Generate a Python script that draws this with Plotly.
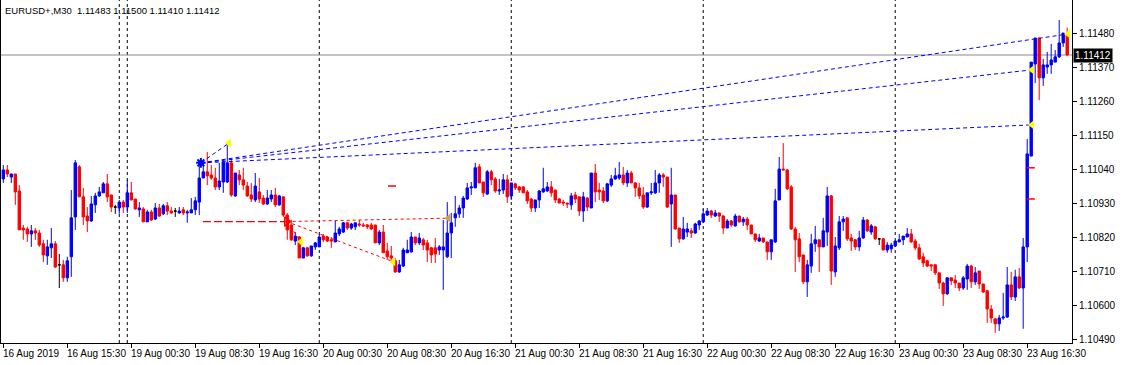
import numpy as np
import plotly.graph_objects as go

# ---------------- data (EURUSD+, M30) ----------------
opens = [
    1.11011, 1.11040, 1.11017, 1.11027, 1.10972, 1.10852, 1.10849, 1.10833, 1.10843, 1.10836,
    1.10801, 1.10762, 1.10788, 1.10801, 1.10733, 1.10733, 1.10691, 1.10759, 1.10888, 1.11050,
    1.10953, 1.10891, 1.10875, 1.10927, 1.10956, 1.10966, 1.10995, 1.10959, 1.10920, 1.10917,
    1.10936, 1.10920, 1.10966, 1.10946, 1.10911, 1.10914, 1.10872, 1.10904, 1.10881, 1.10917,
    1.10898, 1.10924, 1.10907, 1.10907, 1.10901, 1.10911, 1.10901, 1.10901, 1.10911, 1.10936,
    1.11014, 1.11034, 1.11024, 1.11014, 1.10985, 1.11001, 1.11001, 1.11063, 1.10956, 1.11024,
    1.11008, 1.10988, 1.10959, 1.10943, 1.10969, 1.10949, 1.10930, 1.10946, 1.10959, 1.10927,
    1.10953, 1.10894, 1.10862, 1.10810, 1.10823, 1.10755, 1.10788, 1.10762, 1.10791, 1.10791,
    1.10826, 1.10823, 1.10814, 1.10807, 1.10833, 1.10839, 1.10869, 1.10852, 1.10856, 1.10865,
    1.10862, 1.10862, 1.10862, 1.10862, 1.10804, 1.10839, 1.10778, 1.10762, 1.10746, 1.10710,
    1.10729, 1.10772, 1.10775, 1.10823, 1.10804, 1.10814, 1.10804, 1.10788, 1.10788, 1.10781,
    1.10781, 1.10759, 1.10836, 1.10885, 1.10898, 1.10917, 1.10946, 1.10982, 1.10982, 1.11050,
    1.11001, 1.10962, 1.11034, 1.11011, 1.10972, 1.10975, 1.11008, 1.10956, 1.10995, 1.10985,
    1.10985, 1.10969, 1.10946, 1.10917, 1.10943, 1.10969, 1.10972, 1.10985, 1.10975, 1.10946,
    1.10936, 1.10933, 1.10927, 1.10959, 1.10953, 1.10907, 1.10949, 1.10917, 1.11030, 1.10975,
    1.10972, 1.10940, 1.10991, 1.11011, 1.11014, 1.11024, 1.10998, 1.11030, 1.10998, 1.10982,
    1.10959, 1.10920, 1.10966, 1.10966, 1.10998, 1.11024, 1.11017, 1.10930, 1.10959, 1.10852,
    1.10817, 1.10839, 1.10843, 1.10836, 1.10862, 1.10872, 1.10894, 1.10907, 1.10891, 1.10901,
    1.10891, 1.10852, 1.10875, 1.10859, 1.10891, 1.10872, 1.10881, 1.10862, 1.10833, 1.10810,
    1.10820, 1.10807, 1.10775, 1.10807, 1.10943, 1.11043, 1.11040, 1.10985, 1.10849, 1.10817,
    1.10765, 1.10678, 1.10729, 1.10801, 1.10814, 1.10791, 1.10839, 1.10956, 1.10710, 1.10788,
    1.10872, 1.10885, 1.10820, 1.10814, 1.10791, 1.10820, 1.10878, 1.10839, 1.10856, 1.10817,
    1.10817, 1.10781, 1.10785, 1.10794, 1.10807, 1.10814, 1.10823, 1.10833, 1.10810, 1.10788,
    1.10759, 1.10746, 1.10733, 1.10733, 1.10707, 1.10674, 1.10639, 1.10691, 1.10684, 1.10674,
    1.10658, 1.10687, 1.10729, 1.10678, 1.10713, 1.10671, 1.10649, 1.10590, 1.10558, 1.10542,
    1.10561, 1.10564, 1.10668, 1.10629, 1.10694, 1.10658, 1.10791, 1.11085, 1.11383, 1.11467,
    1.11338, 1.11373, 1.11380, 1.11389, 1.11406, 1.11451, 1.11483,
]
highs = [
    1.11056, 1.11056, 1.11027, 1.11027, 1.10991, 1.10862, 1.10856, 1.10862, 1.10852, 1.10846,
    1.10814, 1.10814, 1.10852, 1.10810, 1.10768, 1.10749, 1.10759, 1.10975, 1.11072, 1.11056,
    1.10982, 1.10920, 1.10956, 1.10966, 1.10985, 1.11001, 1.11027, 1.10959, 1.10927, 1.10943,
    1.10943, 1.11008, 1.11001, 1.10946, 1.10936, 1.10920, 1.10911, 1.10911, 1.10933, 1.10930,
    1.10930, 1.10936, 1.10920, 1.10917, 1.10920, 1.10920, 1.10911, 1.10949, 1.10953, 1.11063,
    1.11063, 1.11098, 1.11056, 1.11047, 1.11063, 1.11072, 1.11131, 1.11076, 1.11030, 1.11040,
    1.11047, 1.11001, 1.10998, 1.11030, 1.11014, 1.10959, 1.10975, 1.10975, 1.10982, 1.10959,
    1.10953, 1.10901, 1.10878, 1.10839, 1.10826, 1.10791, 1.10791, 1.10794, 1.10807, 1.10833,
    1.10833, 1.10826, 1.10823, 1.10875, 1.10856, 1.10872, 1.10872, 1.10869, 1.10869, 1.10878,
    1.10869, 1.10865, 1.10869, 1.10862, 1.10846, 1.10862, 1.10804, 1.10794, 1.10755, 1.10749,
    1.10788, 1.10814, 1.10839, 1.10823, 1.10836, 1.10820, 1.10814, 1.10791, 1.10820, 1.10797,
    1.10878, 1.10936, 1.10901, 1.10956, 1.10927, 1.10956, 1.10998, 1.11001, 1.11063, 1.11059,
    1.11001, 1.11040, 1.11040, 1.11017, 1.11011, 1.11027, 1.11024, 1.10998, 1.10998, 1.10988,
    1.10988, 1.10975, 1.10949, 1.10943, 1.10975, 1.11047, 1.11001, 1.11004, 1.10975, 1.10949,
    1.10943, 1.10933, 1.10966, 1.10969, 1.10953, 1.10969, 1.10953, 1.11030, 1.11059, 1.10998,
    1.10985, 1.10998, 1.11024, 1.11047, 1.11066, 1.11050, 1.11040, 1.11037, 1.11001, 1.10998,
    1.10985, 1.10966, 1.10998, 1.11040, 1.11030, 1.11030, 1.11017, 1.11047, 1.10959, 1.10852,
    1.10888, 1.10869, 1.10852, 1.10869, 1.10878, 1.10914, 1.10917, 1.10911, 1.10911, 1.10901,
    1.10894, 1.10881, 1.10878, 1.10898, 1.10891, 1.10888, 1.10888, 1.10862, 1.10833, 1.10833,
    1.10820, 1.10807, 1.10814, 1.10979, 1.11082, 1.11127, 1.11043, 1.10991, 1.10856, 1.10836,
    1.10765, 1.10749, 1.10833, 1.10859, 1.10814, 1.10885, 1.10985, 1.10959, 1.10823, 1.10891,
    1.10891, 1.10885, 1.10833, 1.10817, 1.10843, 1.10888, 1.10881, 1.10865, 1.10859, 1.10820,
    1.10820, 1.10807, 1.10804, 1.10810, 1.10833, 1.10826, 1.10852, 1.10849, 1.10817, 1.10801,
    1.10772, 1.10749, 1.10733, 1.10736, 1.10707, 1.10678, 1.10691, 1.10691, 1.10700, 1.10674,
    1.10697, 1.10736, 1.10733, 1.10726, 1.10713, 1.10671, 1.10652, 1.10603, 1.10561, 1.10571,
    1.10642, 1.10726, 1.10710, 1.10717, 1.10723, 1.10820, 1.11140, 1.11389, 1.11467, 1.11467,
    1.11399, 1.11422, 1.11448, 1.11428, 1.11525, 1.11483, 1.11500,
]
lows = [
    1.10998, 1.11017, 1.10998, 1.10927, 1.10846, 1.10814, 1.10807, 1.10791, 1.10814, 1.10791,
    1.10742, 1.10733, 1.10755, 1.10723, 1.10658, 1.10678, 1.10678, 1.10694, 1.10846, 1.10953,
    1.10862, 1.10839, 1.10872, 1.10901, 1.10953, 1.10966, 1.10936, 1.10904, 1.10898, 1.10898,
    1.10901, 1.10901, 1.10943, 1.10911, 1.10888, 1.10872, 1.10872, 1.10875, 1.10878, 1.10888,
    1.10894, 1.10894, 1.10898, 1.10888, 1.10898, 1.10894, 1.10869, 1.10901, 1.10894, 1.10894,
    1.11014, 1.10991, 1.11008, 1.10975, 1.10975, 1.10966, 1.10998, 1.10953, 1.10953, 1.10991,
    1.10975, 1.10953, 1.10936, 1.10936, 1.10933, 1.10927, 1.10927, 1.10936, 1.10920, 1.10924,
    1.10888, 1.10814, 1.10810, 1.10797, 1.10755, 1.10755, 1.10759, 1.10759, 1.10781, 1.10791,
    1.10807, 1.10807, 1.10788, 1.10807, 1.10826, 1.10836, 1.10846, 1.10846, 1.10846, 1.10856,
    1.10856, 1.10849, 1.10846, 1.10804, 1.10797, 1.10772, 1.10749, 1.10739, 1.10707, 1.10707,
    1.10726, 1.10772, 1.10772, 1.10797, 1.10797, 1.10781, 1.10742, 1.10739, 1.10739, 1.10765,
    1.10652, 1.10755, 1.10755, 1.10856, 1.10885, 1.10885, 1.10943, 1.10959, 1.10982, 1.10998,
    1.10953, 1.10959, 1.10991, 1.10966, 1.10959, 1.10962, 1.10933, 1.10943, 1.10975, 1.10966,
    1.10966, 1.10930, 1.10904, 1.10904, 1.10917, 1.10966, 1.10969, 1.10953, 1.10933, 1.10933,
    1.10924, 1.10917, 1.10911, 1.10933, 1.10891, 1.10872, 1.10907, 1.10917, 1.10936, 1.10943,
    1.10933, 1.10936, 1.10985, 1.11008, 1.11008, 1.10991, 1.10985, 1.10998, 1.10953, 1.10946,
    1.10914, 1.10917, 1.10959, 1.10962, 1.10966, 1.10985, 1.10917, 1.10791, 1.10846, 1.10804,
    1.10814, 1.10823, 1.10820, 1.10833, 1.10846, 1.10869, 1.10891, 1.10885, 1.10888, 1.10872,
    1.10833, 1.10852, 1.10856, 1.10856, 1.10869, 1.10859, 1.10846, 1.10833, 1.10807, 1.10807,
    1.10804, 1.10749, 1.10749, 1.10804, 1.10943, 1.11040, 1.10975, 1.10846, 1.10710, 1.10742,
    1.10671, 1.10629, 1.10707, 1.10775, 1.10710, 1.10791, 1.10794, 1.10668, 1.10694, 1.10781,
    1.10843, 1.10810, 1.10778, 1.10781, 1.10778, 1.10817, 1.10839, 1.10830, 1.10814, 1.10797,
    1.10781, 1.10772, 1.10772, 1.10791, 1.10807, 1.10797, 1.10823, 1.10804, 1.10781, 1.10749,
    1.10726, 1.10726, 1.10713, 1.10700, 1.10655, 1.10600, 1.10636, 1.10668, 1.10658, 1.10648,
    1.10652, 1.10652, 1.10658, 1.10668, 1.10655, 1.10642, 1.10545, 1.10545, 1.10513, 1.10519,
    1.10555, 1.10561, 1.10619, 1.10616, 1.10655, 1.10526, 1.10742, 1.11085, 1.11321, 1.11266,
    1.11312, 1.11351, 1.11351, 1.11389, 1.11402, 1.11438, 1.11410,
]
closes = [
    1.11040, 1.11027, 1.11027, 1.10969, 1.10846, 1.10846, 1.10833, 1.10843, 1.10836, 1.10797,
    1.10765, 1.10791, 1.10801, 1.10726, 1.10733, 1.10691, 1.10746, 1.10885, 1.11063, 1.10953,
    1.10888, 1.10875, 1.10930, 1.10956, 1.10969, 1.10995, 1.10953, 1.10920, 1.10920, 1.10936,
    1.10920, 1.10966, 1.10943, 1.10914, 1.10917, 1.10872, 1.10904, 1.10878, 1.10917, 1.10891,
    1.10924, 1.10907, 1.10901, 1.10907, 1.10907, 1.10901, 1.10904, 1.10911, 1.10940, 1.11014,
    1.11034, 1.11021, 1.11014, 1.10985, 1.11004, 1.11066, 1.11063, 1.10959, 1.11030, 1.11008,
    1.10991, 1.10956, 1.10946, 1.10988, 1.10946, 1.10930, 1.10949, 1.10959, 1.10927, 1.10956,
    1.10894, 1.10846, 1.10814, 1.10826, 1.10755, 1.10788, 1.10762, 1.10794, 1.10804, 1.10823,
    1.10814, 1.10810, 1.10810, 1.10836, 1.10849, 1.10869, 1.10852, 1.10865, 1.10869, 1.10862,
    1.10859, 1.10856, 1.10849, 1.10804, 1.10839, 1.10772, 1.10759, 1.10755, 1.10710, 1.10733,
    1.10781, 1.10781, 1.10823, 1.10804, 1.10820, 1.10797, 1.10781, 1.10765, 1.10768, 1.10791,
    1.10791, 1.10836, 1.10869, 1.10898, 1.10917, 1.10949, 1.10982, 1.10985, 1.11047, 1.10998,
    1.10966, 1.11034, 1.11008, 1.10972, 1.10975, 1.11008, 1.10953, 1.10998, 1.10982, 1.10975,
    1.10966, 1.10940, 1.10917, 1.10943, 1.10972, 1.10979, 1.10985, 1.10966, 1.10943, 1.10933,
    1.10933, 1.10930, 1.10956, 1.10946, 1.10907, 1.10953, 1.10920, 1.11030, 1.10969, 1.10969,
    1.10940, 1.10995, 1.11011, 1.11021, 1.11024, 1.10998, 1.11030, 1.10998, 1.10982, 1.10956,
    1.10920, 1.10966, 1.10969, 1.10998, 1.11024, 1.11017, 1.10920, 1.10959, 1.10849, 1.10817,
    1.10849, 1.10849, 1.10836, 1.10865, 1.10875, 1.10898, 1.10907, 1.10894, 1.10901, 1.10891,
    1.10852, 1.10875, 1.10862, 1.10891, 1.10872, 1.10881, 1.10862, 1.10833, 1.10814, 1.10820,
    1.10807, 1.10775, 1.10814, 1.10940, 1.11043, 1.11040, 1.10979, 1.10849, 1.10814, 1.10759,
    1.10678, 1.10733, 1.10801, 1.10814, 1.10791, 1.10843, 1.10956, 1.10713, 1.10794, 1.10872,
    1.10881, 1.10817, 1.10810, 1.10791, 1.10820, 1.10878, 1.10843, 1.10859, 1.10817, 1.10817,
    1.10781, 1.10797, 1.10797, 1.10810, 1.10814, 1.10826, 1.10833, 1.10807, 1.10788, 1.10752,
    1.10739, 1.10729, 1.10729, 1.10707, 1.10674, 1.10639, 1.10691, 1.10681, 1.10674, 1.10658,
    1.10691, 1.10729, 1.10678, 1.10707, 1.10671, 1.10645, 1.10590, 1.10561, 1.10542, 1.10561,
    1.10564, 1.10668, 1.10629, 1.10694, 1.10658, 1.10791, 1.11092, 1.11389, 1.11467, 1.11338,
    1.11380, 1.11380, 1.11396, 1.11406, 1.11451, 1.11483, 1.11412,
]

tick_labels = [
    "16 Aug 2019", "16 Aug 15:30", "19 Aug 00:30", "19 Aug 08:30", "19 Aug 16:30",
    "20 Aug 00:30", "20 Aug 08:30", "20 Aug 16:30", "21 Aug 00:30", "21 Aug 08:30",
    "21 Aug 16:30", "22 Aug 00:30", "22 Aug 08:30", "22 Aug 16:30", "23 Aug 00:30",
    "23 Aug 08:30", "23 Aug 16:30",
]
tick_step_bars = 16
separator_bars = [29, 31, 79, 127, 175, 223]
price_ticks = [1.10490, 1.10600, 1.10710, 1.10820, 1.10930, 1.11040,
               1.11150, 1.11260, 1.11370, 1.11480]
current_price = 1.11412
title_text = "EURUSD+,M30  1.11483 1.11500 1.11410 1.11412"

# analyst objects (bar index, price)
blue_origin_bar, blue_origin_price = 49.4, 1.11063
blue_target_bars = [56.4, 257.2, 257.2, 266.2]
blue_target_prices = [1.11127, 1.11186, 1.11364, 1.11480]
red_origin_bar, red_origin_price = 70.85, 1.10873
red_hline_start_bar = 49.9
red_target_bars = [111.3, 74.4, 97.5]
red_target_prices = [1.10884, 1.10808, 1.10743]
red_tick_bars = [(96.2, 98.2), (255.9, 257.9), (255.9, 257.9)]
red_tick_prices = [1.10988, 1.11047, 1.10946]

# ---------------- figure ----------------
o = np.array(opens); h = np.array(highs); l = np.array(lows); c = np.array(closes)
x = np.arange(len(o))
doji = o == c
nd = ~doji

BLUE = "#0000ff"
RED = "#ff0000"

fig = go.Figure()
fig.add_trace(go.Candlestick(
    x=x[nd], open=o[nd], high=h[nd], low=l[nd], close=c[nd],
    increasing=dict(line=dict(color=BLUE, width=1), fillcolor=BLUE),
    decreasing=dict(line=dict(color=RED, width=1), fillcolor=RED),
    whiskerwidth=0, hoverinfo="skip", showlegend=False,
))
fig.add_trace(go.Candlestick(
    x=x[doji], open=o[doji], high=h[doji], low=l[doji], close=c[doji],
    increasing=dict(line=dict(color="black", width=1), fillcolor="black"),
    decreasing=dict(line=dict(color="black", width=1), fillcolor="black"),
    whiskerwidth=0, hoverinfo="skip", showlegend=False,
))

# blue fan lines
for tb, tp in zip(blue_target_bars, blue_target_prices):
    fig.add_trace(go.Scatter(
        x=[blue_origin_bar, tb], y=[blue_origin_price, tp], mode="lines",
        line=dict(color=BLUE, width=1, dash="4px,3px"),
        hoverinfo="skip", showlegend=False))

# red lines
fig.add_trace(go.Scatter(
    x=[red_hline_start_bar, red_origin_bar], y=[red_origin_price, red_origin_price],
    mode="lines", line=dict(color=RED, width=1.3, dash="8px,3px"),
    hoverinfo="skip", showlegend=False))
for tb, tp in zip(red_target_bars, red_target_prices):
    fig.add_trace(go.Scatter(
        x=[red_origin_bar, tb], y=[red_origin_price, tp], mode="lines",
        line=dict(color=RED, width=1, dash="3px,3px"),
        hoverinfo="skip", showlegend=False))

# short red horizontal marks
for (b0, b1), p in zip(red_tick_bars, red_tick_prices):
    fig.add_trace(go.Scatter(
        x=[b0, b1], y=[p, p], mode="lines", line=dict(color=RED, width=1.5),
        hoverinfo="skip", showlegend=False))

# markers
fig.add_trace(go.Scatter(
    x=blue_target_bars + red_target_bars[1:], y=blue_target_prices + red_target_prices[1:],
    mode="markers", marker=dict(symbol="triangle-left", size=8, color="#ffff00",
                                line=dict(width=0)),
    hoverinfo="skip", showlegend=False))
fig.add_trace(go.Scatter(
    x=red_target_bars[:1], y=red_target_prices[:1], mode="markers",
    marker=dict(symbol="triangle-left", size=8, color="#d2a24c", line=dict(width=0)),
    hoverinfo="skip", showlegend=False))
fig.add_trace(go.Scatter(
    x=[red_origin_bar], y=[red_origin_price], mode="markers",
    marker=dict(symbol="triangle-right-open", size=8, color=RED, line=dict(color=RED, width=1.5)),
    hoverinfo="skip", showlegend=False))
fig.add_trace(go.Scatter(
    x=[blue_origin_bar], y=[blue_origin_price], mode="markers",
    marker=dict(symbol="asterisk-open", size=8, color=BLUE, line=dict(color=BLUE, width=2)),
    hoverinfo="skip", showlegend=False))

shapes = []
for sb in separator_bars:
    shapes.append(dict(type="line", xref="x", yref="paper", x0=sb, x1=sb, y0=0, y1=1,
                       line=dict(color="black", width=1, dash="3px,3px"), layer="below"))
shapes.append(dict(type="line", xref="paper", yref="y", x0=0, x1=1,
                   y0=current_price, y1=current_price,
                   line=dict(color="#8a8a8a", width=1), layer="below"))

FONT = "Liberation Sans, Arial, sans-serif"
FS = 10
annotations = []
tick_vals = [k * tick_step_bars for k in range(len(tick_labels))]
for tv, tl in zip(tick_vals, tick_labels):
    annotations.append(dict(x=tv, y=0, xref="x", yref="paper", text=tl, showarrow=False,
                            xanchor="left", yanchor="top", xshift=-2, yshift=-3,
                            font=dict(family=FONT, size=FS, color="black")))
annotations.append(dict(x=0, y=1, xref="paper", yref="paper", text=title_text,
                        showarrow=False, xanchor="left", yanchor="top", xshift=2, yshift=-3,
                        font=dict(family=FONT, size=9.5, color="black")))
annotations.append(dict(x=1, y=current_price, xref="paper", yref="y",
                        text=f"{current_price:.5f}", showarrow=False,
                        xanchor="left", yanchor="middle", xshift=1,
                        bgcolor="black", borderpad=1,
                        font=dict(family=FONT, size=FS, color="white")))

fig.update_layout(
    width=1122, height=365,
    margin=dict(l=1, r=50, t=0, b=22, autoexpand=False),
    paper_bgcolor="white", plot_bgcolor="white",
    showlegend=False, boxgap=0.4, boxgroupgap=0, boxmode="overlay",
    font=dict(family=FONT, size=FS, color="black"),
    shapes=shapes, annotations=annotations,
    xaxis=dict(range=[-0.575, 267.2], showgrid=False, zeroline=False,
               showline=True, linecolor="black", linewidth=1, mirror=True,
               tickvals=tick_vals, ticktext=[""] * len(tick_vals),
               ticks="outside", ticklen=4, tickcolor="black", tickwidth=1,
               rangeslider=dict(visible=False), fixedrange=True),
    yaxis=dict(range=[1.10480, 1.11590], side="right", tickvals=price_ticks,
               tickformat=".5f", ticks="outside", ticklen=4, tickcolor="black",
               showline=True, mirror=True, linecolor="black", linewidth=1,
               showgrid=False, zeroline=False, fixedrange=True,
               tickfont=dict(family=FONT, size=FS, color="black")),
)

fig.write_html("out.html", config={"displayModeBar": False},
               post_script="document.body.style.margin='0';document.body.style.overflow='hidden';")
